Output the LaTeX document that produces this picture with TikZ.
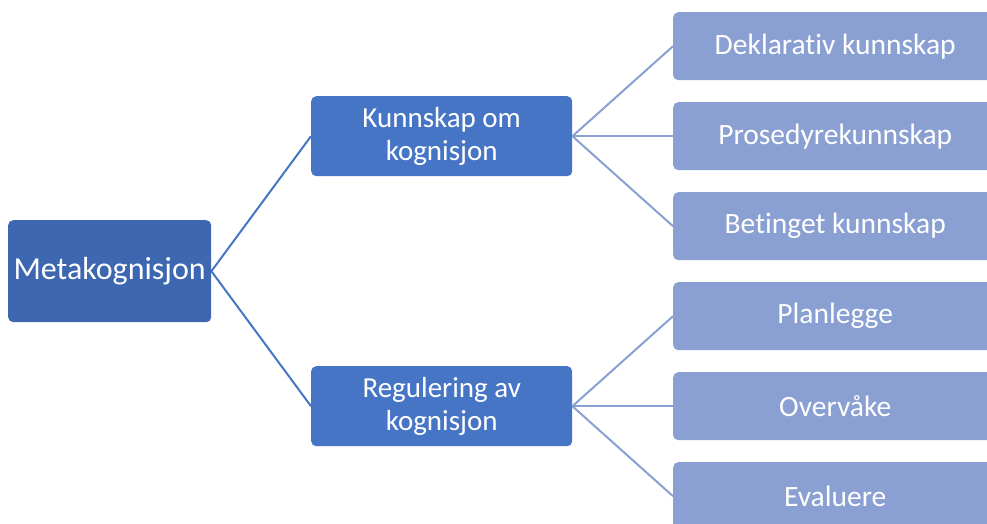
\documentclass[tikz,border=0pt]{standalone}
\usepackage{fontspec}
\setmainfont{Carlito}[Ligatures={NoCommon}]
\definecolor{darkb}{HTML}{3D67B1}
\definecolor{midb}{HTML}{4775C6}
\definecolor{lightb}{HTML}{8A9FD2}
\begin{document}
\begin{tikzpicture}[x=1pt,y=-1pt,
  box/.style={rounded corners=5pt,text=white,align=center,inner sep=0pt,anchor=north west},
  rootbox/.style={box,fill=darkb,font=\fontsize{32}{38}\selectfont},
  midbox/.style={box,fill=midb,font=\fontsize{29}{33}\selectfont},
  leafbox/.style={box,fill=lightb,font=\fontsize{29.5}{34}\selectfont},
  link1/.style={draw=midb,line width=2pt},
  link2/.style={draw=lightb,line width=2pt}]
\useasboundingbox (0,0) rectangle (987,524);
\begin{scope}
\clip (0,0) rectangle (987,524);
\node[rootbox,minimum width=203pt,minimum height=102pt] (root) at (8,220) {Metakognisjon};
\node[midbox,minimum width=261pt,minimum height=80pt] (k) at (311,96) {Kunnskap om\\kognisjon};
\node[midbox,minimum width=261pt,minimum height=80pt] (r) at (311,366) {Regulering av\\kognisjon};
\foreach \n/\y/\t in {l1/12/Deklarativ kunnskap,l2/102/Prosedyrekunnskap,l3/192/Betinget kunnskap,l4/282/Planlegge,l5/372/Overvåke,l6/462/Evaluere}{
  \node[leafbox,minimum width=324pt,minimum height=68pt] (\n) at (673,\y) {\t};
}
\draw[link1] (root.east) -- (k.west);
\draw[link1] (root.east) -- (r.west);
\foreach \n in {l1,l2,l3}{\draw[link2] (k.east) -- (\n.west);}
\foreach \n in {l4,l5,l6}{\draw[link2] (r.east) -- (\n.west);}
\end{scope}
\end{tikzpicture}
\end{document}
